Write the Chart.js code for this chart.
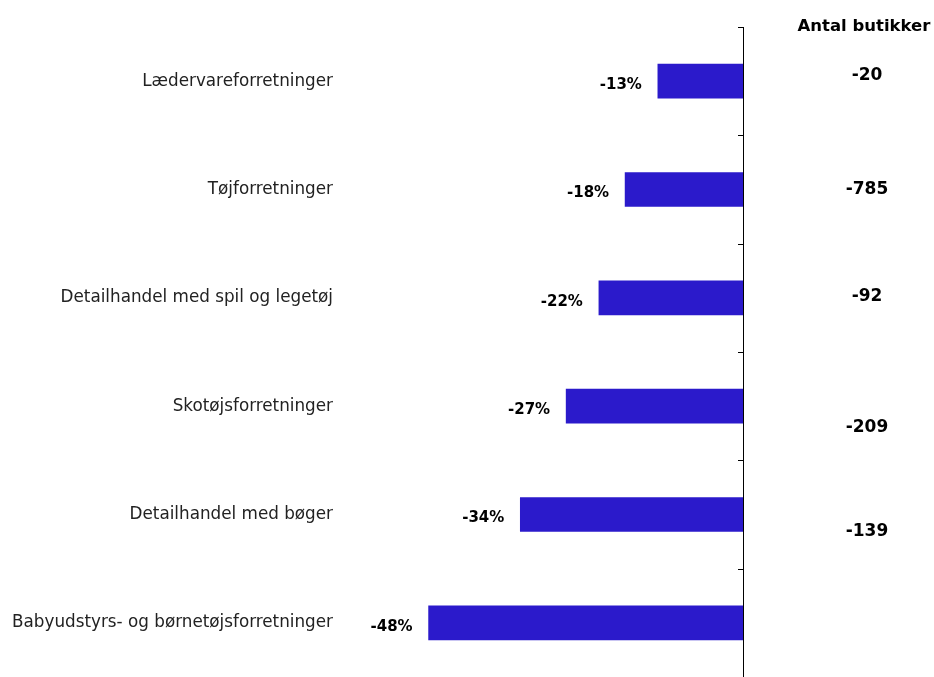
<!DOCTYPE html>
<html>
<head>
<meta charset="utf-8">
<script src="https://cdn.jsdelivr.net/npm/chart.js@4/dist/chart.umd.min.js"></script>
<style>
  html, body { margin: 0; padding: 0; background: #ffffff; overflow: hidden; }
  canvas { display: block; }
</style>
</head>
<body>
<canvas id="chartShops" width="934" height="677"></canvas>
<script>
const categories = [
  "Lædervareforretninger",
  "Tøjforretninger",
  "Detailhandel med spil og legetøj",
  "Skotøjsforretninger",
  "Detailhandel med bøger",
  "Babyudstyrs- og børnetøjsforretninger"
];
const changePct = [-13, -18, -22, -27, -34, -48];
const shopCounts = ["-20", "-785", "-92", "-209", "-139", ""];
const shopHeader = "Antal butikker";

// small vertical nudges for the right-hand column, as in the original
const shopOffsets = [-6, 0, -1, 21, 17, 0];

const barColor = "#2b1acb";

let sideNotes = {
  id: "sideNotes",
  afterDatasetsDraw(chart) {
    const ctx = chart.ctx;
    const x = chart.scales.x;
    const y = chart.scales.y;
    const area = chart.chartArea;
    const zero = x.getPixelForValue(0);

    ctx.save();
    // zero line with short ticks at category boundaries
    ctx.strokeStyle = "#000";
    ctx.lineWidth = 1;
    ctx.beginPath();
    ctx.moveTo(Math.round(zero) + 0.5, area.top);
    ctx.lineTo(Math.round(zero) + 0.5, area.bottom);
    for (let i = 0; i < categories.length; i++) {
      let ty = Math.round(y.getPixelForValue(i - 0.5)) + 0.5;
      ctx.moveTo(zero - 5, ty);
      ctx.lineTo(zero, ty);
    }
    ctx.stroke();

    // percent labels
    ctx.fillStyle = "#000";
    ctx.font = "bold 15px 'DejaVu Sans', sans-serif";
    ctx.textAlign = "right";
    ctx.textBaseline = "middle";
    changePct.forEach(function (v, i) {
      ctx.fillText(v + "%", x.getPixelForValue(v) - 16, y.getPixelForValue(i) + 4);
    });

    // right column
    ctx.textAlign = "center";
    ctx.font = "bold 16.5px 'DejaVu Sans', sans-serif";
    ctx.fillText(shopHeader, 864, area.top);
    ctx.font = "bold 17px 'DejaVu Sans', sans-serif";
    shopCounts.forEach(function (s, i) {
      if (s) ctx.fillText(s, 867, y.getPixelForValue(i) + shopOffsets[i]);
    });
    ctx.restore();
  }
};

new Chart(document.getElementById("chartShops"), {
  type: "bar",
  data: {
    labels: categories,
    datasets: [{
      data: changePct,
      backgroundColor: barColor,
      barThickness: 34
    }]
  },
  options: {
    indexAxis: "y",
    responsive: false,
    animation: false,
    layout: {
      autoPadding: false,
      padding: { top: 27, right: 191, bottom: -3, left: 0 }
    },
    plugins: {
      legend: { display: false },
      tooltip: { enabled: false }
    },
    scales: {
      x: {
        display: false,
        min: -60,
        max: 0
      },
      y: {
        afterFit(scale) {
          scale.width = 350;
          scale.paddingTop = 0;
          scale.paddingBottom = 0;
        },
        border: { display: false },
        grid: { display: false, drawTicks: false },
        ticks: {
          color: "#222",
          padding: 17,
          font: { family: "'DejaVu Sans', sans-serif", size: 16.8 }
        }
      }
    }
  },
  plugins: [sideNotes]
});
</script>
</body>
</html>
